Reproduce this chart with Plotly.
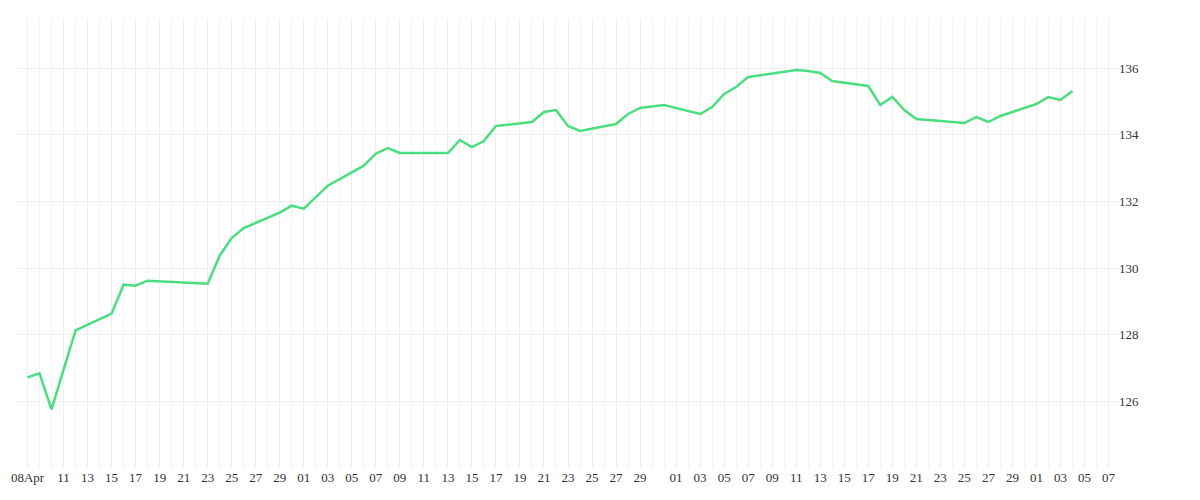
import datetime as dt
import plotly.graph_objects as go

dates = ["2021-04-08", "2021-04-09", "2021-04-10", "2021-04-12", "2021-04-15", "2021-04-16",
         "2021-04-17", "2021-04-18", "2021-04-23", "2021-04-24", "2021-04-25", "2021-04-26",
         "2021-04-29", "2021-04-30", "2021-05-01", "2021-05-03", "2021-05-06", "2021-05-07",
         "2021-05-08", "2021-05-09", "2021-05-13", "2021-05-14", "2021-05-15", "2021-05-16",
         "2021-05-17", "2021-05-20", "2021-05-21", "2021-05-22", "2021-05-23", "2021-05-24",
         "2021-05-27", "2021-05-28", "2021-05-29", "2021-05-31", "2021-06-03", "2021-06-04",
         "2021-06-05", "2021-06-06", "2021-06-07", "2021-06-11", "2021-06-12", "2021-06-13",
         "2021-06-14", "2021-06-17", "2021-06-18", "2021-06-19", "2021-06-20", "2021-06-21",
         "2021-06-25", "2021-06-26", "2021-06-27", "2021-06-28", "2021-07-01", "2021-07-02",
         "2021-07-03", "2021-07-04"]
values = [126.72, 126.84, 125.76, 128.13, 128.63, 129.50, 129.47, 129.62, 129.53, 130.37,
          130.90, 131.20, 131.66, 131.87, 131.78, 132.47, 133.07, 133.43, 133.60, 133.45,
          133.45, 133.84, 133.63, 133.81, 134.26, 134.38, 134.68, 134.74, 134.26, 134.11,
          134.32, 134.62, 134.80, 134.89, 134.62, 134.83, 135.22, 135.43, 135.73, 135.94,
          135.91, 135.85, 135.61, 135.46, 134.89, 135.13, 134.74, 134.47, 134.35, 134.53,
          134.38, 134.56, 134.92, 135.13, 135.04, 135.31]
y_ticks = [126, 128, 130, 132, 134, 136]

# ticks: 08Apr, then odd days of each month up to the 29th
tickvals = ["2021-04-08"]
ticktext = ["08Apr"]
for m, start in [(4, 11), (5, 1), (6, 1), (7, 1)]:
    for d in range(start, 30, 2):
        day = dt.date(2021, m, d)
        if day > dt.date(2021, 7, 7):
            break
        tickvals.append(day.isoformat())
        ticktext.append("%02d" % d)

fig = go.Figure()
fig.add_trace(go.Scatter(x=dates, y=values, mode="lines",
                         line=dict(color="#4ade80", width=2.5)))

fig.update_layout(
    width=1200, height=500,
    margin=dict(l=10, r=90, t=10, b=40),
    plot_bgcolor="white", paper_bgcolor="white",
    showlegend=False,
    font=dict(family="Liberation Serif", size=13, color="#333"),
)
fig.update_xaxes(
    range=["2021-04-07 05:00", "2021-07-07 19:00"],
    tickvals=tickvals, ticktext=ticktext,
    showgrid=True, gridcolor="#eeeeee",
    minor=dict(dtick=86400000, showgrid=True, gridcolor="#f3f3f3"),
    zeroline=False, showline=False, automargin=False,
)
fig.update_yaxes(
    side="right", range=[124.0, 137.5], tickvals=y_ticks,
    showgrid=True, gridcolor="#eeeeee",
    zeroline=False, showline=False, automargin=False,
)

fig.write_html("out.html")
